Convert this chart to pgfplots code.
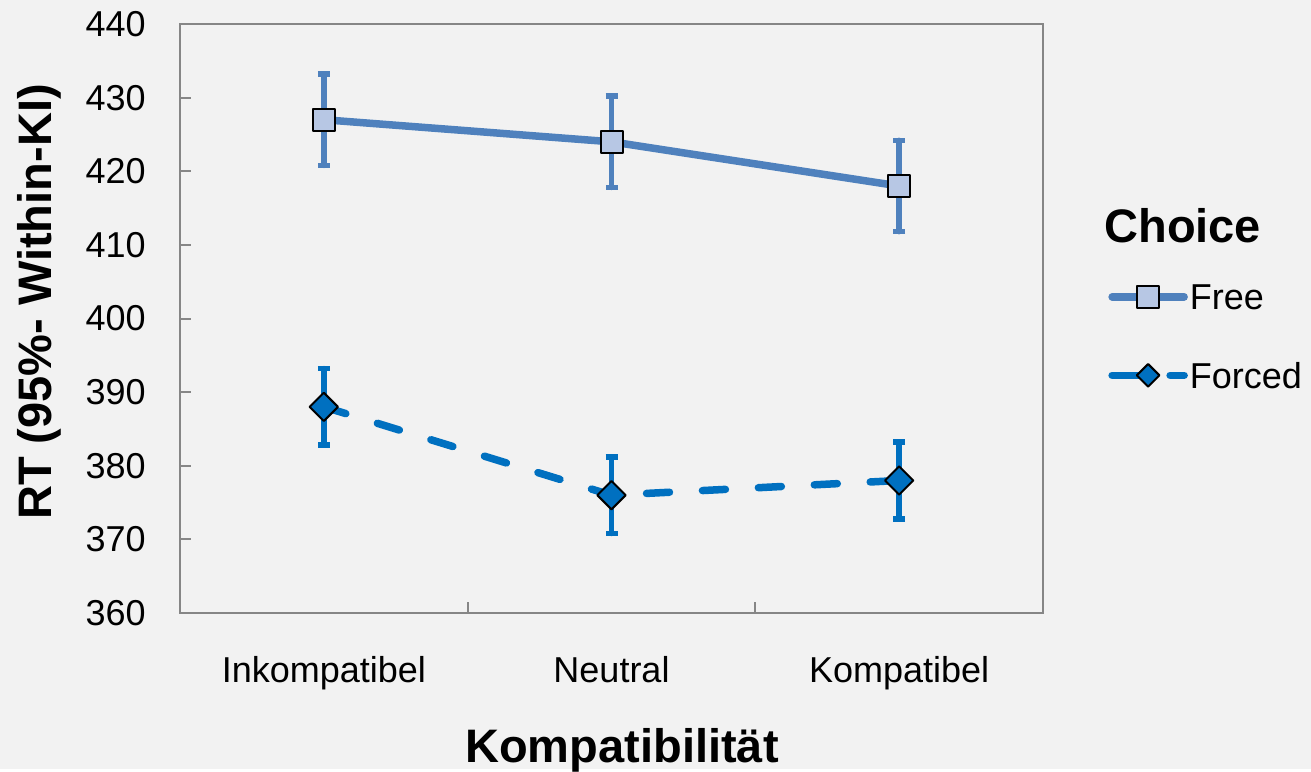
\documentclass[border=0pt]{standalone}
\usepackage{fontspec}
\setmainfont{Liberation Sans}
\usepackage{pgfplots}
\pgfplotsset{compat=1.18}

\definecolor{bg}{HTML}{F2F2F2}
\definecolor{axgray}{HTML}{868686}
\definecolor{freeline}{HTML}{4F81BD}
\definecolor{freefill}{HTML}{B7C7E4}
\definecolor{forcedblue}{HTML}{0070C0}

\begin{document}
\begin{tikzpicture}
% background of the whole chart area
\fill[bg] (-90pt,-78pt) rectangle (565.5pt,306.5pt);
\begin{axis}[
    at={(0,0)}, anchor=south west,
    scale only axis, width=431.5pt, height=294.5pt,
    clip=false,
    xmin=-0.5, xmax=2.5,
    ymin=360, ymax=440,
    xtick={-0.5,0.5,1.5,2.5},
    x tick label as interval,
    xticklabels={Inkompatibel,Neutral,Kompatibel},
    ytick={360,370,...,440},
    xtick pos=bottom, ytick pos=left,
    tick align=inside,
    major tick length=5.5pt,
    axis line style={axgray, line width=1pt},
    every tick/.style={axgray, line width=1pt},
    tick label style={font=\fontsize{18}{20}\selectfont, text=black},
    /pgf/number format/assume math mode=true,
    yticklabel style={inner sep=0pt, xshift=-17pt},
    xticklabel style={anchor=base, inner sep=0pt, yshift=-34.5pt},
    legend style={draw=none, fill=none, inner sep=0pt,
        at={(axis description cs:1.0753,0.5584)}, anchor=north west,
        cells={anchor=west}, row sep=26.5pt, column sep=1pt,
        nodes={inner sep=0pt, text depth=0pt, font=\fontsize{18}{20}\selectfont}},
    legend image code/.code={%
        \draw[mark repeat=2,mark phase=2] plot coordinates {(0pt,0pt)(18pt,0pt)(36pt,0pt)};},
]

% Free
\addplot[freeline, line width=3.75pt, line join=round, line cap=round,
    mark=square*, mark size=5.5pt,
    mark options={solid, fill=freefill, draw=black, line width=1pt},
    error bars/.cd, y dir=both, y explicit,
    error bar style={solid, line width=2.75pt, freeline},
    error mark options={rotate=90, solid, line width=2.75pt, mark size=3pt, freeline}]
coordinates {
    (0,427) +- (0,6.2)
    (1,424) +- (0,6.2)
    (2,418) +- (0,6.2)
};
\addlegendentry{Free}

% Forced
\addplot[forcedblue, line width=3.75pt, line join=round, line cap=round,
    dash pattern=on 11.5pt off 16.5pt,
    mark=square*, mark size=5pt,
    mark options={solid, rotate=45, fill=forcedblue, draw=black, line width=1pt},
    legend image code/.code={%
        \draw[dash pattern=on 18pt off 11pt on 7pt, mark repeat=2, mark phase=2,
              every mark/.append style={scale=0.8}]
            plot coordinates {(0pt,0pt)(18pt,0pt)(36pt,0pt)};},
    error bars/.cd, y dir=both, y explicit,
    error bar style={solid, line width=2.75pt, forcedblue},
    error mark options={rotate=90, solid, line width=2.75pt, mark size=3pt, forcedblue}]
coordinates {
    (0,388) +- (0,5.2)
    (1,376) +- (0,5.2)
    (2,378) +- (0,5.2)
};
\addlegendentry{Forced}

\end{axis}

% titles
\node[anchor=base, inner sep=0pt, font=\fontsize{23.5}{26}\selectfont\bfseries]
    at (221pt,-74.5pt) {Kompatibilität};
\node[anchor=base, rotate=90, inner sep=0pt, font=\fontsize{23.5}{26}\selectfont\bfseries]
    at (-64pt,155.5pt) {RT (95\%- Within-KI)};
\node[anchor=base west, inner sep=0pt, font=\fontsize{23.5}{26}\selectfont\bfseries]
    at (462pt,185.5pt) {Choice};
\end{tikzpicture}
\end{document}
